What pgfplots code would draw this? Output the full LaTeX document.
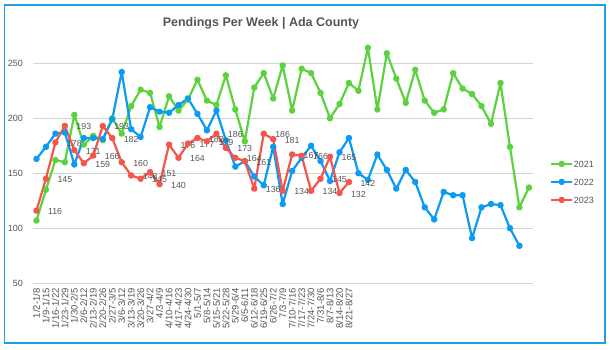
\documentclass[border=0pt]{standalone}
\usepackage{fontspec}
\setmainfont{Liberation Sans}
\usepackage{pgfplots}
\pgfplotsset{compat=1.18}
\definecolor{gA}{HTML}{5CD23F}
\definecolor{bA}{HTML}{0C9BF3}
\definecolor{rA}{HTML}{F4564B}
\definecolor{frameC}{HTML}{1E9FE8}
\definecolor{gridC}{HTML}{D3D3D3}
\definecolor{txtC}{HTML}{555555}
\begin{document}
\begin{tikzpicture}[x=1pt,y=1pt]
\path[use as bounding box] (0,0) rectangle (610,350);
\draw[frameC, line width=1.2pt] (4.5,7) rectangle (605,345);
\node[font=\fontsize{12.5}{14}\selectfont\bfseries, text=txtC] at (261,327) {Pendings Per Week | Ada County};
\begin{axis}[
  at={(35,60.7)}, anchor=south west,
  width=500pt, height=242pt, scale only axis,
  xmin=-0.35, xmax=52.45, ymin=50, ymax=270,
  axis line style={draw=none},
  major tick length=0pt,
  ytick={50,100,150,200,250},
  ymajorgrids, grid style={gridC, line width=0.8pt},
  xtick={0,...,33},
  xticklabels={1/2-1/8,1/9-1/15,1/16-1/22,1/23-1/29,1/30-2/5,2/6-2/12,2/13-2/19,2/20-2/26,2/27-3/5,3/6-3/12,3/13-3/19,3/20-3/26,3/27-4/2,4/3-4/9,4/10-4/16,4/17-4/23,4/24-4/30,5/1-5/7,5/8-5/14,5/15-5/21,5/22-5/28,5/29-6/4,6/5-6/11,6/12-6/18,6/19-6/25,6/26-7/2,7/3-7/9,7/10-7/16,7/17-7/23,7/24-7/30,7/31-8/6,8/7-8/13,8/14-8/20,8/21-8/27},
  xticklabel style={rotate=90, anchor=east, font=\fontsize{9.5}{10}\selectfont, text=txtC, inner sep=0pt},
  xticklabel shift=5pt,
  yticklabel style={font=\fontsize{9}{10}\selectfont, text=txtC, inner sep=0pt, xshift=-10pt},
  /pgf/number format/assume math mode=true,
  clip=false,
  legend style={at={(1.0334,0.5095)}, anchor=north west, draw=none, fill=none,
    font=\fontsize{9}{9}\selectfont, row sep=10.5pt, inner sep=0pt,
    nodes={inner sep=0.5pt, text height=6.5pt, text depth=0pt, text=txtC}},
  legend cell align=left,
  legend image code/.code={\draw[mark repeat=2,mark phase=2,#1] plot coordinates {(0pt,0pt) (10.5pt,0pt) (21pt,0pt)};},
  every axis plot/.append style={line width=2.2pt, line join=round, mark=*, mark size=2.1pt, mark options={solid}},
]
\addplot[gA] coordinates {(0,107)(1,135)(2,162)(3,160)(4,203)(5,176)(6,184)(7,180)(8,200)(9,186)(10,211)(11,226)(12,223)(13,192)(14,220)(15,207)(16,217)(17,235)(18,216)(19,212)(20,239)(21,208)(22,179)(23,228)(24,241)(25,218)(26,248)(27,207)(28,245)(29,241)(30,223)(31,200)(32,213)(33,232)(34,225)(35,264)(36,208)(37,259)(38,236)(39,214)(40,244)(41,216)(42,205)(43,208)(44,241)(45,227)(46,222)(47,211)(48,195)(49,232)(50,174)(51,119)(52,137)};
\addlegendentry{2021}
\addplot[bA] coordinates {(0,163)(1,174)(2,186)(3,187)(4,158)(5,182)(6,182)(7,181)(8,199)(9,242)(10,190)(11,183)(12,210)(13,206)(14,205)(15,212)(16,218)(17,204)(18,189)(19,207)(20,180)(21,156)(22,161)(23,147)(24,139)(25,174)(26,122)(27,152)(28,164)(29,175)(30,161)(31,143)(32,169)(33,182)(34,150)(35,144)(36,167)(37,153)(38,136)(39,153)(40,142)(41,119)(42,108)(43,133)(44,130)(45,130)(46,91)(47,119)(48,122)(49,121)(50,100)(51,84)};
\addlegendentry{2022}
\addplot[rA, nodes near coords, every node near coord/.append style={anchor=west, xshift=10.5pt, yshift=-1pt, inner sep=0pt, font=\fontsize{8.8}{9}\selectfont, text=txtC}] coordinates {(0,116)(1,145)(2,178)(3,193)(4,171)(5,159)(6,166)(7,193)(8,182)(9,160)(10,148)(11,145)(12,151)(13,140)(14,176)(15,164)(16,177)(17,182)(18,179)(19,186)(20,173)(21,164)(22,161)(23,136)(24,186)(25,181)(26,134)(27,167)(28,166)(29,134)(30,145)(31,165)(32,132)(33,142)};
\addlegendentry{2023}
\end{axis}
\end{tikzpicture}
\end{document}
